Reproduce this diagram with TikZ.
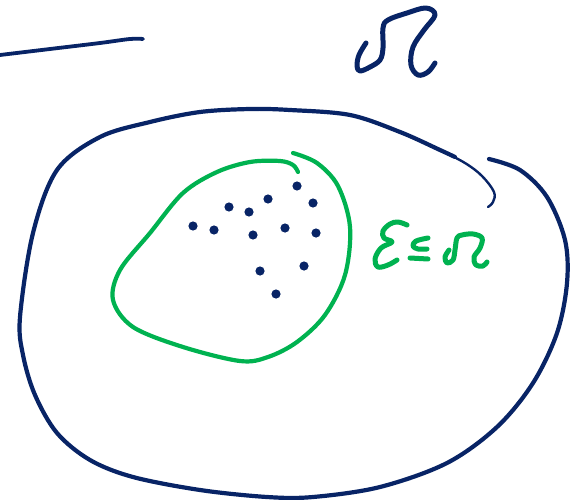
\documentclass[tikz,border=0pt]{standalone}
\begin{document}
\begin{tikzpicture}[x=1pt,y=-1pt,line cap=round,line join=round,
  navyline/.style={draw=navy,line width=4.2pt},
  greenline/.style={draw=sgreen,line width=4.2pt},
  dotmark/.style={fill=navy}]
\definecolor{navy}{RGB}{8,36,102}
\definecolor{sgreen}{RGB}{0,178,80}
\useasboundingbox (0,0) rectangle (575,500);
% top-left stroke
\draw[navyline,line width=3.8pt] plot[smooth,tension=0.6] coordinates {(0,55) (50,49) (100,43) (130,39) (143,39)};
% Omega
\draw[navyline,line width=5pt] plot[smooth,tension=0.6] coordinates {(366,43) (359,55) (357,66) (360,71) (370,67) (380,60) (383,48) (383,28) (388,20) (407,13) (426,8) (435,15) (424,30) (413,47) (411,65) (418,75) (428,72) (435,63)};
% outer loop
\draw[navyline] plot[smooth,tension=0.55] coordinates {(489,159) (520,170) (547,197) (565,240) (567,283) (557,333) (533,383) (497,427) (447,463) (380,487) (313,497) (267,497) (200,490) (133,477) (90,460) (57,433) (35,395) (23,355) (20,317) (33,233) (57,170) (100,137) (150,122) (200,112) (250,109) (290,110) (350,115) (400,132) (440,150) (455,157)};
\draw[navyline,line width=2.4pt] plot[smooth,tension=0.6] coordinates {(440,150) (465,163) (482,176) (494,192) (493,202) (488,207)};
% green loop
\draw[greenline] plot[smooth,tension=0.55] coordinates {(293,153) (317,163) (338,186) (350,227) (345,275) (325,315) (297,342) (268,357) (240,361) (183,347) (133,327) (113,300) (120,270) (150,233) (183,193) (217,172) (250,162) (280,161) (293,165) (298,172)};
% dots
\foreach \p in {(297,186),(268,199),(229,207),(249,212),(313,203),(193,226),(214,230),(253,235),(285,228),(316,233),(260,271),(304,266),(276,294)}
  \fill[dotmark] \p circle (4.6);
% epsilon <= Omega
\draw[greenline,line width=5pt] plot[smooth,tension=0.6] coordinates {(407,225) (398,222) (390,224) (383,231) (384,238) (392,242) (381,248) (375,259) (378,267) (388,265) (397,260)};
\draw[greenline,line width=5pt] plot[smooth,tension=0.6] coordinates {(428,238) (416,241) (413,246) (418,249) (427,249)};
\draw[greenline,line width=5pt] (410,258) -- (428,259);
\draw[greenline,line width=5pt] plot[smooth,tension=0.6] coordinates {(449,250) (445,257) (447,263) (453,260) (455,250) (457,238) (462,235) (473,234) (482,238) (480,248) (474,257) (476,265) (483,266) (487,262)};
\end{tikzpicture}
\end{document}
